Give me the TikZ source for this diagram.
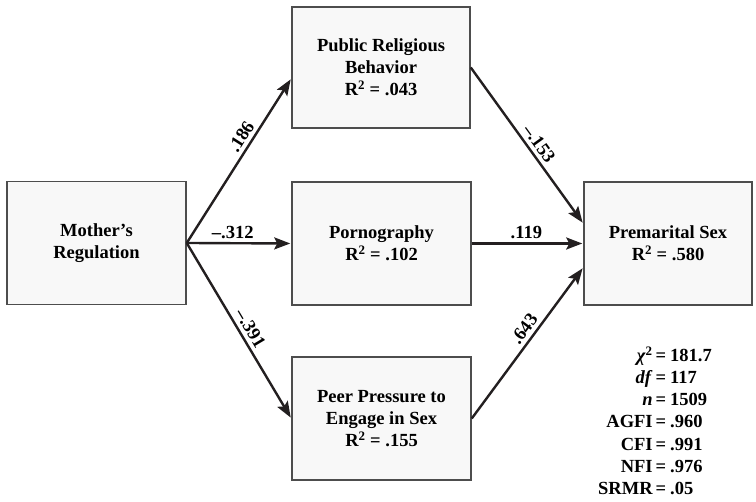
\documentclass[tikz,border=0pt]{standalone}
\usepackage{fontspec}
\setmainfont{Liberation Serif}
\usepackage{tikz}
\usetikzlibrary{arrows.meta}
\definecolor{boxfill}{HTML}{F8F8F8}
\definecolor{boxline}{HTML}{4D4D4D}
\definecolor{pathline}{HTML}{231F20}
\newcommand{\rsq}[1]{R\textsuperscript{2} = #1}
\tikzset{
    varbox/.style={draw=boxline, fill=boxfill, line width=1.5pt, align=center,
        minimum width=179pt, minimum height=123pt, inner sep=0pt,
        font=\fontsize{18.5}{22}\selectfont\bfseries},
    path/.style={draw=pathline, line width=2.4pt,
        -{Stealth[length=16pt,width=12pt,inset=3pt]}, shorten >=1pt},
    coef/.style={sloped, above, inner sep=3.5pt,
        font=\fontsize{18.5}{22}\selectfont\bfseries}
}

\begin{document}
\begin{tikzpicture}[x=1pt,y=1pt]
        \useasboundingbox (0,0) rectangle (756,502);
        % variables
        \node[varbox] (mom) at (96.5,259) {Mother’s\\Regulation};
        \node[varbox, minimum width=178pt, minimum height=121pt] (pub) at (381,434.5) {Public Religious\\Behavior\\\rsq{.043}};
        \node[varbox] (porn) at (381.5,258.5) {Pornography\\\rsq{.102}};
        \node[varbox] (peer) at (381.5,83.5) {Peer Pressure to\\Engage in Sex\\\rsq{.155}};
        \node[varbox, minimum width=168pt] (sex) at (668,258.5) {Premarital Sex\\\rsq{.580}};
        % paths
        \draw[path] (mom.east) -- node[coef, pos=0.61] {.186} ([yshift=-11pt]pub.west);
        \draw[path] (mom.east) -- node[coef, pos=0.44] {--.312} (porn.west);
        \draw[path] (mom.east) -- node[coef, pos=0.52] {--.391} (peer.west);
        \draw[path] (pub.east) -- node[coef, pos=0.53] {--.153} ([yshift=20pt]sex.west);
        \draw[path] (porn.east) -- node[coef, pos=0.49] {.119} (sex.west);
        \draw[path] (peer.east) -- node[coef, pos=0.55] {.643} ([yshift=-24pt]sex.west);
        % fit statistics
        \node[anchor=west, inner sep=0pt, font=\fontsize{18.5}{22.2}\selectfont\bfseries] (fit) at (598,78.5) {%
            \begin{tabular}{@{}r@{\hspace{3pt}}c@{\hspace{4pt}}l@{}}
            \textit{χ}\textsuperscript{2} & = & 181.7\\
            \textit{df} & = & 117\\
            \textit{n} & = & 1509\\
            AGFI & = & .960\\
            CFI & = & .991\\
            NFI & = & .976\\
            SRMR & = & .05
            \end{tabular}};
    \end{tikzpicture}
\end{document}
